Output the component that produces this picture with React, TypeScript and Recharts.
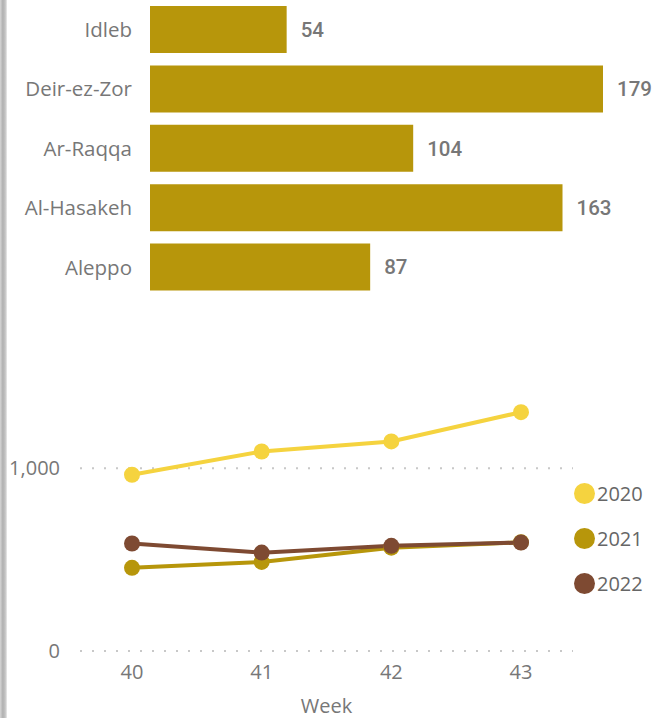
import {
  BarChart,
  Bar,
  LineChart,
  Line,
  XAxis,
  YAxis,
  ReferenceLine,
  LabelList,
} from 'recharts';

const governorates = ['Idleb', 'Deir-ez-Zor', 'Ar-Raqqa', 'Al-Hasakeh', 'Aleppo'];
const governorateCounts = [54, 179, 104, 163, 87];

const weeks = [40, 41, 42, 43];
const years = ['2020', '2021', '2022'];
const series2020 = [964, 1091, 1146, 1306];
const series2021 = [455, 487, 565, 595];
const series2022 = [588, 538, 575, 593];
const yTicks = [0, 1000];

const GOLD = '#B7960B';
const YELLOW = '#F5D33F';
const BROWN = '#7E4A32';
const GREY = '#777777';
const FONT = "'Segoe UI', 'Open Sans', sans-serif";
const yearColors = [YELLOW, GOLD, BROWN];

const barData = governorates.map((name, i) => ({ name, value: governorateCounts[i] }));
const lineData = weeks.map((week, i) => ({
  week,
  '2020': series2020[i],
  '2021': series2021[i],
  '2022': series2022[i],
}));

function YearLegend() {
  return (
    <div style={{ position: 'absolute', left: 574, top: 471, fontFamily: FONT }}>
      {years.map((y, i) => (
        <div key={y} style={{ display: 'flex', alignItems: 'center', height: 45 }}>
          <span
            style={{
              width: 21,
              height: 21,
              borderRadius: '50%',
              background: yearColors[i],
              display: 'inline-block',
            }}
          />
          <span style={{ color: '#666', fontSize: 20, marginLeft: 2 }}>{y}</span>
        </div>
      ))}
    </div>
  );
}

export default function App() {
  return (
    <div
      style={{
        position: 'absolute',
        left: 0,
        top: 0,
        width: 657,
        height: 718,
        background: '#fff',
        overflow: 'hidden',
      }}
    >
      <div
        style={{
          position: 'absolute',
          left: 0,
          top: 0,
          width: 7,
          height: 718,
          background: 'linear-gradient(to right, #d6d6d6, #b0b0b0 40%, #c4c4c4 75%, #ececec)',
        }}
      />
      <div style={{ position: 'absolute', left: 0, top: 0 }}>
        <BarChart
          width={657}
          height={297}
          data={barData}
          layout="vertical"
          margin={{ top: 0, right: 54, bottom: 0, left: 0 }}
        >
          <XAxis type="number" domain={[0, 179]} hide />
          <YAxis
            type="category"
            dataKey="name"
            width={150}
            axisLine={false}
            tickLine={false}
            tickSize={0}
            tickMargin={18}
            tick={{ fill: GREY, fontSize: 20.5, fontFamily: FONT }}
          />
          <Bar dataKey="value" fill={GOLD} barSize={47} isAnimationActive={false}>
            <LabelList
              dataKey="value"
              position="right"
              offset={14}
              style={{ fill: GREY, fontSize: 20.5, fontWeight: 500, fontFamily: 'Roboto, sans-serif' }}
            />
          </Bar>
        </BarChart>
      </div>
      <div style={{ position: 'absolute', left: 0, top: 300 }}>
        <LineChart
          width={657}
          height={418}
          data={lineData}
          margin={{ top: 95, right: 84, bottom: 0, left: 0 }}
        >
          {yTicks.map((t) => (
            <ReferenceLine key={t} y={t} stroke="#c8c8c8" strokeWidth={2} strokeDasharray="2 10" />
          ))}
          <XAxis
            dataKey="week"
            height={67}
            padding={{ left: 52, right: 52 }}
            axisLine={false}
            tickLine={false}
            tickSize={0}
            tickMargin={14}
            tick={{ fill: GREY, fontSize: 20, fontFamily: FONT }}
            label={{
              value: 'Week',
              position: 'insideBottom',
              offset: 5,
              style: { fill: GREY, fontSize: 20, fontFamily: FONT },
            }}
          />
          <YAxis
            width={80}
            domain={[0, 1400]}
            ticks={yTicks}
            axisLine={false}
            tickLine={false}
            tickSize={0}
            tickMargin={20}
            tickFormatter={(v: number) => v.toLocaleString('en-US')}
            tick={{ fill: GREY, fontSize: 20, fontFamily: FONT }}
          />
          {years.map((y, i) => (
            <Line
              key={y}
              dataKey={y}
              stroke={yearColors[i]}
              strokeWidth={4}
              dot={{ r: 8, fill: yearColors[i], stroke: yearColors[i], strokeWidth: 0 }}
              activeDot={false}
              isAnimationActive={false}
            />
          ))}
        </LineChart>
      </div>
      <YearLegend />
    </div>
  );
}
